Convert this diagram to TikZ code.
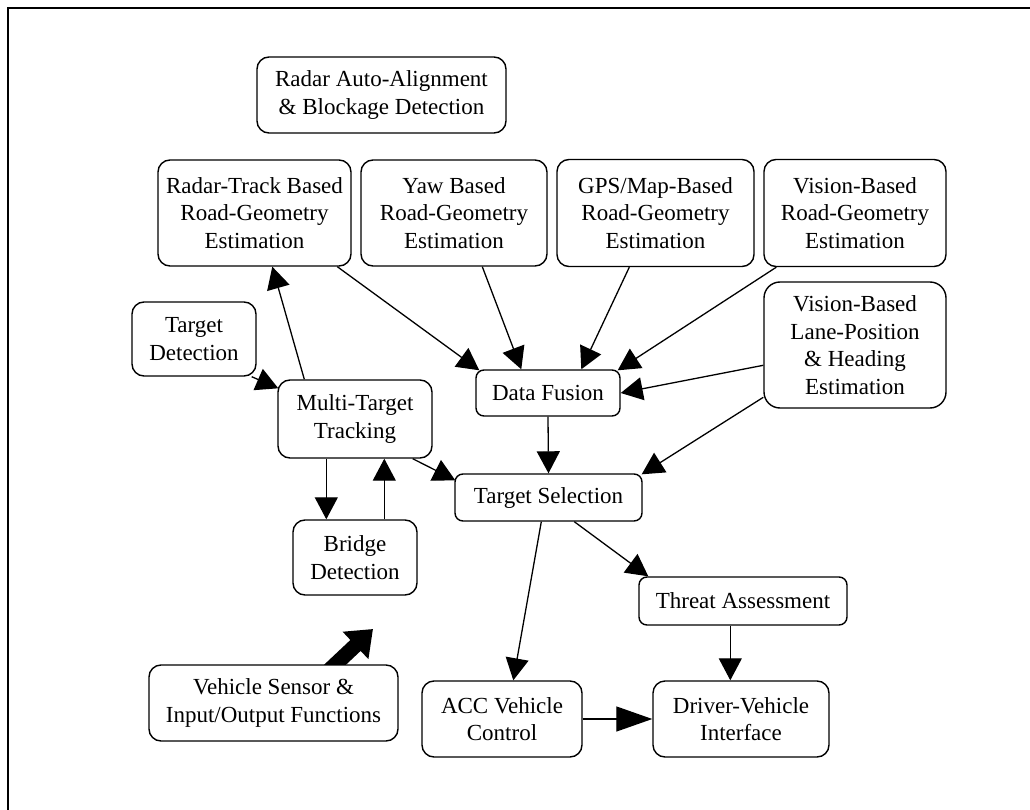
\documentclass[tikz,border=0pt]{standalone}
\usepackage{fontspec}
\setmainfont{Liberation Serif}
\usetikzlibrary{arrows.meta,calc,backgrounds}
\begin{document}
\begin{tikzpicture}[x=1pt,y=-1pt,
  box/.style={draw, fill=white, line width=1.4pt, rounded corners=12pt, align=center,
              inner sep=0pt, font=\fontsize{23}{27.5}\selectfont},
  sz/.style 2 args={minimum width=#1pt, minimum height=#2pt},
  conn/.style={line width=1.3pt, -{Triangle[length=22pt,width=23pt]}},
  bigarrow/.style={line width=15pt, -{Triangle[length=24pt,width=36pt]}},
  ]
\useasboundingbox (0,0) rectangle (1030,810);

% page frame
\draw[line width=2.5pt] (8,810) -- (8,8) -- (1030,8);

% blocks
\node[box, sz={249}{76}] (raa) at (381.5,95) {Radar Auto-Alignment\\\& Blockage Detection};
\node[box, sz={193}{106}] (rt) at (254.5,213) {Radar-Track Based\\Road-Geometry\\Estimation};
\node[box, sz={186}{106}] (yaw) at (454,213) {Yaw Based\\Road-Geometry\\Estimation};
\node[box, sz={197}{107}] (gps) at (655.5,213) {GPS/Map-Based\\Road-Geometry\\Estimation};
\node[box, sz={182}{107}] (vrg) at (855,213) {Vision-Based\\Road-Geometry\\Estimation};
\node[box, sz={182}{126}, rounded corners=16pt] (vlp) at (855,345) {Vision-Based\\Lane-Position\\\& Heading\\Estimation};
\node[box, sz={124}{74}] (td) at (194,339) {Target\\Detection};
\node[box, sz={154}{78}] (mtt) at (355,419) {Multi-Target\\Tracking};
\node[box, sz={144}{46}, rounded corners=8pt] (df) at (548,393) {Data Fusion};
\node[box, sz={187}{47}, rounded corners=8pt] (ts) at (548.5,497.5) {Target Selection};
\node[box, sz={208}{48}, rounded corners=8pt] (ta) at (743,601) {Threat Assessment};
\node[box, sz={124}{75}] (bd) at (355,557.5) {Bridge\\Detection};
\node[box, sz={249}{76}] (vs) at (273.5,703) {Vehicle Sensor \&\\Input/Output Functions};
\node[box, sz={160}{76}] (acc) at (502,719) {ACC Vehicle\\Control};
\node[box, sz={176}{76}] (dvi) at (741,719) {Driver-Vehicle\\Interface};

% connectors
\draw[conn] ($(rt.south west)+(180,0)$) -- ($(df.north west)+(4,1)$);
\draw[conn] ($(yaw.south west)+(122,0)$) -- ($(df.north west)+(46,0)$);
\draw[conn] ($(gps.south west)+(73,0)$) -- ($(df.north west)+(106,0)$);
\draw[conn] ($(vrg.south west)+(13,0)$) -- ($(df.north east)+(-3,1)$);
\draw[conn] ($(vlp.north west)+(0,84)$) -- (df.east);
\draw[conn] ($(vlp.north west)+(0,116)$) -- ($(ts.north east)+(-1,1)$);
\draw[conn] (df.south) -- (ts.north);
\draw[conn] ($(td.south east)+(-5,0)$) -- ($(mtt.north west)+(1,9)$);
\draw[conn] ($(mtt.north west)+(27,0)$) -- ($(rt.south west)+(115,0)$);
\draw[conn] ($(mtt.south east)+(-20,0)$) -- ($(ts.north west)+(1,7)$);
\draw[conn] ($(mtt.south west)+(49,0)$) -- ($(bd.north west)+(34,0)$);
\draw[conn] ($(bd.north west)+(92,0)$) -- ($(mtt.south west)+(107,0)$);
\draw[conn] ($(ts.south west)+(87,0)$) -- ($(acc.north west)+(92,0)$);
\draw[conn] ($(ts.south west)+(120,0)$) -- ($(ta.north west)+(10,0)$);
\draw[conn] ($(ta.south west)+(92,0)$) -- ($(dvi.north west)+(78,0)$);
\draw[line width=1.3pt, -{Triangle[length=36pt,width=25pt]}] (acc.east) -- (dvi.west);

% input arrow from the sensor block
\coordinate (vstip) at (373,629);
\begin{scope}[on background layer]
\draw[bigarrow] ($(vs.north west)+(176,10.5)$) -- (vstip);
\end{scope}
\end{tikzpicture}
\end{document}
